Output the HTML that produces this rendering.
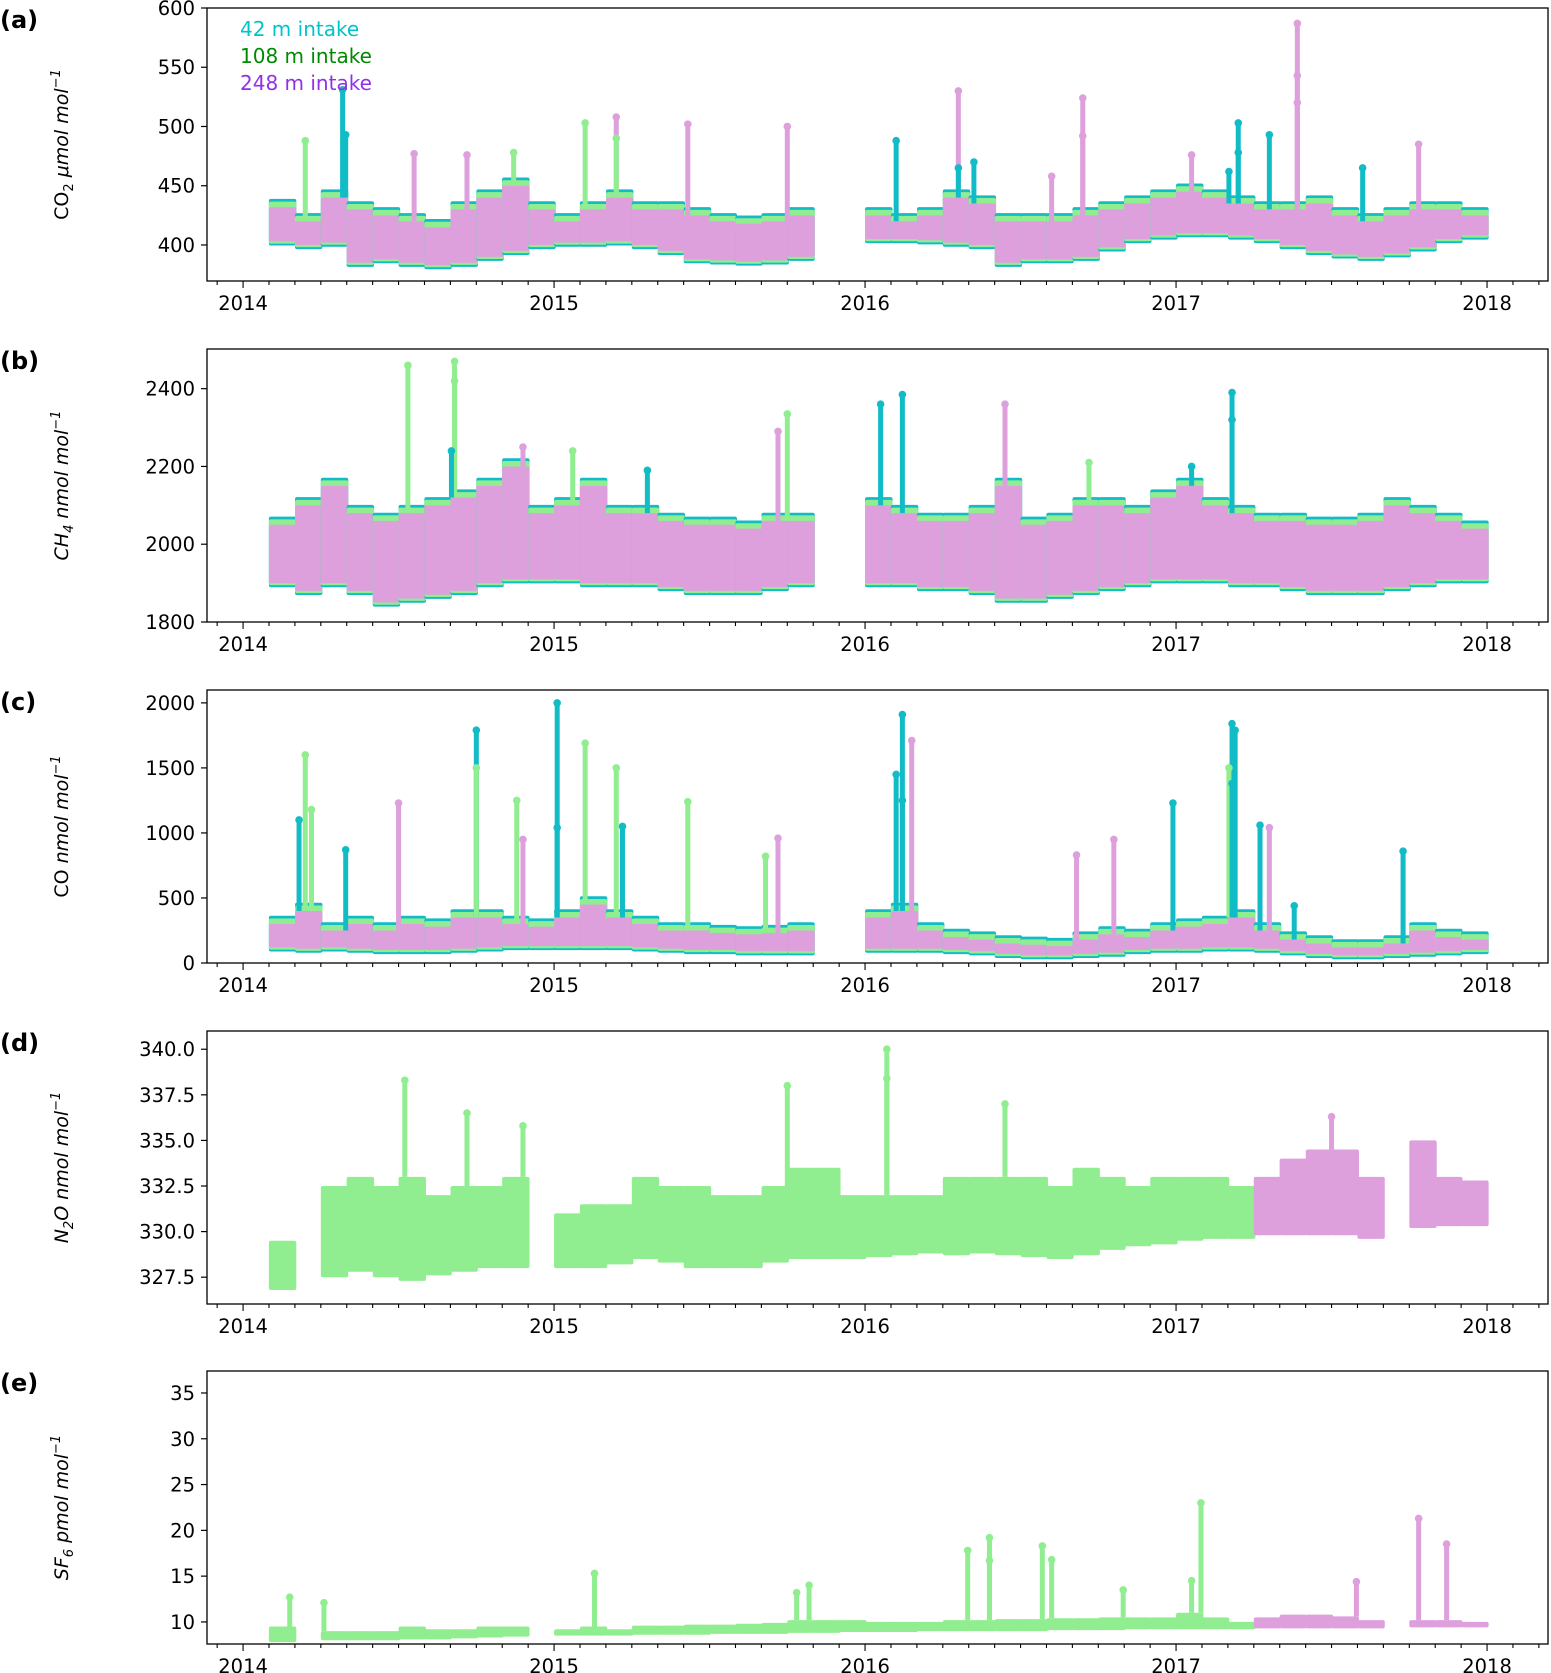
<!DOCTYPE html>
<html><head><meta charset="utf-8"><style>
html,body{margin:0;padding:0;background:#fff;}
svg{display:block;font-family:"DejaVu Sans","Liberation Sans",sans-serif;}
</style></head><body>
<svg id="chart" width="1551" height="1673" viewBox="0 0 1551 1673" xmlns="http://www.w3.org/2000/svg"></svg>
<script>
// ---- shared time axis data ----
const months = [2014.083,2014.167,2014.25,2014.333,2014.417,2014.5,2014.583,2014.667,2014.75,2014.833,2014.917,
 2015.0,2015.083,2015.167,2015.25,2015.333,2015.417,2015.5,2015.583,2015.667,2015.75,2015.833,2015.917,
 2016.0,2016.083,2016.167,2016.25,2016.333,2016.417,2016.5,2016.583,2016.667,2016.75,2016.833,2016.917,
 2017.0,2017.083,2017.167,2017.25,2017.333,2017.417,2017.5,2017.583,2017.667,2017.75,2017.833,2017.917];
const yearTicks = [2014,2015,2016,2017,2018];

// ---- panel a CO2 ----
const co2Lo = [403,400,402,385,388,385,383,385,390,395,400, 402,402,403,400,395,388,387,386,387,390,null,null, 405,405,404,402,400,385,388,388,390,398,405,408, 410,410,408,405,400,395,392,390,393,398,405,408];
const co2Hi = [432,420,440,430,425,420,415,430,440,450,430, 420,430,440,430,430,425,420,418,420,425,null,null, 425,420,425,440,435,420,420,420,425,430,435,440, 445,440,435,430,430,435,425,420,425,430,430,425];
const co2Spikes = [[2014.2,488,'g'],[2014.33,493,'t'],[2014.32,531,'t'],[2014.55,477,'p'],[2014.72,476,'p'],[2014.87,478,'g'],[2015.1,503,'g'],[2015.2,508,'p'],[2015.2,490,'g'],[2015.43,502,'p'],[2015.75,500,'p'],[2016.3,530,'p'],[2016.1,488,'t'],[2016.3,465,'t'],[2016.35,470,'t'],[2016.6,458,'p'],[2016.7,524,'p'],[2016.7,492,'p'],[2017.05,476,'p'],[2017.17,462,'t'],[2017.2,503,'t'],[2017.2,478,'t'],[2017.3,493,'t'],[2017.39,587,'p'],[2017.39,543,'p'],[2017.39,520,'p'],[2017.6,465,'t'],[2017.78,485,'p']];
// ---- panel b CH4 ----
const ch4Lo = [1900,1880,1900,1880,1850,1860,1870,1880,1900,1910,1910, 1910,1900,1900,1900,1890,1880,1880,1880,1890,1900,null,null, 1900,1900,1890,1890,1880,1860,1860,1870,1880,1890,1900,1910, 1910,1910,1900,1900,1890,1880,1880,1880,1890,1900,1910,1910];
const ch4Hi = [2050,2100,2150,2080,2060,2080,2100,2120,2150,2200,2080, 2100,2150,2080,2080,2060,2050,2050,2040,2060,2060,null,null, 2100,2080,2060,2060,2080,2150,2050,2060,2100,2100,2080,2120, 2150,2100,2080,2060,2060,2050,2050,2060,2100,2080,2060,2040];
const ch4Spikes = [[2014.53,2460,'g'],[2014.68,2470,'g'],[2014.68,2420,'g'],[2014.67,2240,'t'],[2014.9,2250,'p'],[2015.06,2240,'g'],[2015.3,2190,'t'],[2015.72,2290,'p'],[2015.75,2335,'g'],[2016.05,2360,'t'],[2016.12,2385,'t'],[2016.45,2360,'p'],[2017.18,2390,'t'],[2017.18,2320,'t'],[2017.05,2200,'t'],[2016.72,2210,'g']];
// ---- panel c CO ----
const coLo = [120,110,120,110,100,100,100,110,120,130,130, 130,130,130,120,110,100,100,90,90,90,null,null, 110,110,110,100,90,70,60,60,70,80,100,110, 110,120,120,110,90,70,60,60,70,80,90,100];
const coHi = [300,400,250,300,250,300,280,350,350,300,280, 350,450,350,300,250,250,230,220,230,250,null,null, 350,400,250,200,180,150,140,130,180,220,200,250, 280,300,350,250,180,150,120,120,150,250,200,180];
const coSpikes = [[2014.2,1600,'g'],[2014.18,1100,'t'],[2014.22,1180,'g'],[2014.33,870,'t'],[2014.5,1230,'p'],[2014.75,1790,'t'],[2014.75,1500,'g'],[2014.88,1250,'g'],[2014.9,950,'p'],[2015.01,2000,'t'],[2015.01,1040,'t'],[2015.1,1690,'g'],[2015.2,1500,'g'],[2015.22,1050,'t'],[2015.43,1240,'g'],[2015.72,960,'p'],[2015.68,820,'g'],[2016.12,1910,'t'],[2016.1,1450,'t'],[2016.15,1710,'p'],[2016.12,1250,'t'],[2016.8,950,'p'],[2016.68,830,'p'],[2016.99,1230,'t'],[2017.18,1840,'t'],[2017.19,1790,'t'],[2017.17,1500,'g'],[2017.18,1380,'t'],[2017.27,1060,'t'],[2017.3,1040,'p'],[2017.38,440,'t'],[2017.73,860,'t']];
// ---- panel d N2O ----
const n2oLo = [326.8,null,327.5,327.8,327.5,327.3,327.6,327.8,328,328,null, 328,328,328.2,328.5,328.3,328,328,328,328.3,328.5,328.5,328.5, 328.6,328.7,328.8,328.7,328.8,328.7,328.6,328.5,328.7,329,329.2,329.3, 329.5,329.6,329.6,329.8,329.8,329.8,329.8,329.6,null,330.2,330.3,330.3];
const n2oHi = [329.5,null,332.5,333,332.5,333,332,332.5,332.5,333,null, 331,331.5,331.5,333,332.5,332.5,332,332,332.5,333.5,333.5,332, 332,332,332,333,333,333,333,332.5,333.5,333,332.5,333, 333,333,332.5,333,334,334.5,334.5,333,null,335,333,332.8];
const n2oSeries = ['g','g','g','g','g','g','g','g','g','g','g', 'g','g','g','g','g','g','g','g','g','g','g','g', 'g','g','g','g','g','g','g','g','g','g','g','g', 'g','g','g','p','p','p','p','p','p','p','p','p'];
const n2oSpikes = [[2014.52,338.3,'g'],[2014.72,336.5,'g'],[2014.9,335.8,'g'],[2015.75,338,'g'],[2016.07,340,'g'],[2016.07,338.4,'g'],[2016.45,337,'g'],[2017.5,336.3,'p']];
// ---- panel e SF6 ----
const sf6Lo = [7.8,null,8,8,8,8.1,8.1,8.2,8.3,8.4,null, 8.5,8.5,8.5,8.6,8.6,8.6,8.7,8.7,8.7,8.8,8.8,8.9, 8.9,8.9,9,9,9,9,9,9.1,9.1,9.1,9.2,9.2, 9.2,9.2,9.2,9.3,9.3,9.3,9.3,9.3,null,9.4,9.4,9.4];
const sf6Hi = [9.5,null,9,9,9,9.5,9.2,9.2,9.5,9.5,null, 9.2,9.5,9.2,9.6,9.6,9.7,9.7,9.8,9.9,10.2,10.2,10.2, 10,10,10,10.2,10.2,10.3,10.3,10.4,10.4,10.5,10.5,10.5, 11,10.5,10,10.5,10.8,10.8,10.6,10.2,null,10.2,10.2,10];
const sf6Series = n2oSeries;
const sf6Spikes = [[2014.15,12.7,'g'],[2014.26,12.1,'g'],[2015.13,15.3,'g'],[2015.78,13.2,'g'],[2015.82,14,'g'],[2016.33,17.8,'g'],[2016.4,19.2,'g'],[2016.4,16.7,'g'],[2016.57,18.3,'g'],[2016.6,16.8,'g'],[2016.83,13.5,'g'],[2017.08,23,'g'],[2017.05,14.5,'g'],[2017.58,14.4,'p'],[2017.78,21.3,'p'],[2017.87,18.5,'p']];

const NS='http://www.w3.org/2000/svg';
const svg=document.getElementById('chart');
const COL={t:'#12bcc6',g:'#90ee90',p:'#dda0dd'};
const L=207,R=1548,H=273,X0=2013.884,X1=2018.196;
const xs=t=>L+(t-X0)/(X1-X0)*(R-L);
function mk(tag,attrs,parent){const e=document.createElementNS(NS,tag);for(const k in attrs)e.setAttribute(k,attrs[k]);(parent||svg).appendChild(e);return e;}

function panel(cfg){
  const top=cfg.top,bot=top+H;
  const ys=v=>bot-(v-cfg.lo)/(cfg.hi-cfg.lo)*H;
  const g=mk('g',{});
  
  
  const clipId='clip'+cfg.name;
  const cp=mk('clipPath',{id:clipId},g);mk('rect',{x:L,y:top,width:R-L,height:H},cp);
  const plot=mk('g',{'clip-path':'url(#'+clipId+')'},g);
  const w=(R-L)/(X1-X0)/12;
  function band(x,lo,hi,color,nm){
    const r=mk('rect',{x:x,y:ys(hi),width:w+1.5,height:Math.max(1,ys(lo)-ys(hi)),fill:color,rx:2},plot);
    
    
  }
  months.forEach((m,i)=>{
    const lo=cfg.loArr[i],hi=cfg.hiArr[i];
    if(lo==null||hi==null)return;
    const x=xs(m);
    if(cfg.series){
      band(x,lo,hi,COL[cfg.series[i]],cfg.name+'-band');
    }else{
      const sp=(cfg.hi-cfg.lo);
      band(x,lo-sp*0.015,hi+sp*0.03,COL.t,cfg.name+'-42m-band');
      band(x,lo-sp*0.008,hi+sp*0.02,COL.g,cfg.name+'-108m-band');
      band(x,lo,hi,COL.p,cfg.name+'-248m-band');
    }
  });
  cfg.spikes.forEach(s=>{
    const i=months.findIndex((m,k)=>s[0]>=m&&s[0]<m+1/12);
    const base=i>=0&&cfg.hiArr[i]!=null?cfg.hiArr[i]:s[1];
    const x=xs(s[0]);
    const ln=mk('line',{x1:x,x2:x,y1:ys(base),y2:ys(s[1]),stroke:COL[s[2]],'stroke-width':5},plot);
    
    
    const c=mk('circle',{cx:x,cy:ys(s[1]),r:3.8,fill:COL[s[2]]},plot);
    
    
  });
  const fr=mk('rect',{x:L,y:top,width:R-L,height:H,fill:'none',stroke:'#000','stroke-width':1.3},g);
  
  
  cfg.yticks.forEach(v=>{
    const y=ys(v);
    mk('line',{x1:L-6,x2:L,y1:y,y2:y,stroke:'#000','stroke-width':1.2},g);
    const t=mk('text',{x:L-12,y:y+7,'text-anchor':'end','font-size':19.5},g);
    t.textContent=cfg.fmt?cfg.fmt(v):v;
    
    
  });
  for(let k=-1;k<=50;k++){
    const t=2014+k/12; if(t<X0||t>X1)continue;
    const x=xs(t), major=(k%12===0);
    mk('line',{x1:x,x2:x,y1:bot,y2:bot+(major?7:4),stroke:'#000','stroke-width':1.1},g);
  }
  yearTicks.forEach(yr=>{
    const t=mk('text',{x:xs(yr),y:bot+29,'text-anchor':'middle','font-size':19.5},g);
    t.textContent=yr;
    
    
  });
  const pl=mk('text',{x:0,y:top+20,'font-size':24,'font-weight':'bold'},g);
  pl.textContent=cfg.letter;
  
  
  const yt=mk('text',{x:0,y:0,'text-anchor':'middle','font-size':19,transform:'translate(68,'+(top+H/2)+') rotate(-90)'},g);
  yt.innerHTML=cfg.ytitle;
  
  
}

panel({name:'co2',letter:'(a)',top:8,lo:369.6,hi:600,loArr:co2Lo,hiArr:co2Hi,spikes:co2Spikes,yticks:[400,450,500,550,600],
  ytitle:'CO<tspan font-size="13" dy="5">2</tspan><tspan dy="-5" font-style="italic"> μmol mol</tspan><tspan font-size="13" dy="-8" font-style="italic">−1</tspan>'});
panel({name:'ch4',letter:'(b)',top:349,lo:1800,hi:2502,loArr:ch4Lo,hiArr:ch4Hi,spikes:ch4Spikes,yticks:[1800,2000,2200,2400],
  ytitle:'<tspan font-style="italic">CH</tspan><tspan font-size="13" dy="5" font-style="italic">4</tspan><tspan dy="-5" font-style="italic"> nmol mol</tspan><tspan font-size="13" dy="-8" font-style="italic">−1</tspan>'});
panel({name:'co',letter:'(c)',top:690,lo:0,hi:2099,loArr:coLo,hiArr:coHi,spikes:coSpikes,yticks:[0,500,1000,1500,2000],
  ytitle:'CO<tspan font-style="italic"> nmol mol</tspan><tspan font-size="13" dy="-8" font-style="italic">−1</tspan>'});
panel({name:'n2o',letter:'(d)',top:1031,lo:326.03,hi:341.0,loArr:n2oLo,hiArr:n2oHi,series:n2oSeries,spikes:n2oSpikes,yticks:[327.5,330,332.5,335,337.5,340],fmt:v=>v.toFixed(1),
  ytitle:'<tspan font-style="italic">N</tspan><tspan font-size="13" dy="5" font-style="italic">2</tspan><tspan dy="-5" font-style="italic">O nmol mol</tspan><tspan font-size="13" dy="-8" font-style="italic">−1</tspan>'});
panel({name:'sf6',letter:'(e)',top:1371,lo:7.59,hi:37.4,loArr:sf6Lo,hiArr:sf6Hi,series:sf6Series,spikes:sf6Spikes,yticks:[10,15,20,25,30,35],
  ytitle:'<tspan font-style="italic">SF</tspan><tspan font-size="13" dy="5" font-style="italic">6</tspan><tspan dy="-5" font-style="italic"> pmol mol</tspan><tspan font-size="13" dy="-8" font-style="italic">−1</tspan>'});

[['42 m intake','#00c5c8',36],['108 m intake','#008a00',63],['248 m intake','#9030e8',90]].forEach(l=>{
  const t=mk('text',{x:240,y:l[2],'font-size':20,fill:l[1]});
  t.textContent=l[0];
  
  
});
</script>
</body></html>
